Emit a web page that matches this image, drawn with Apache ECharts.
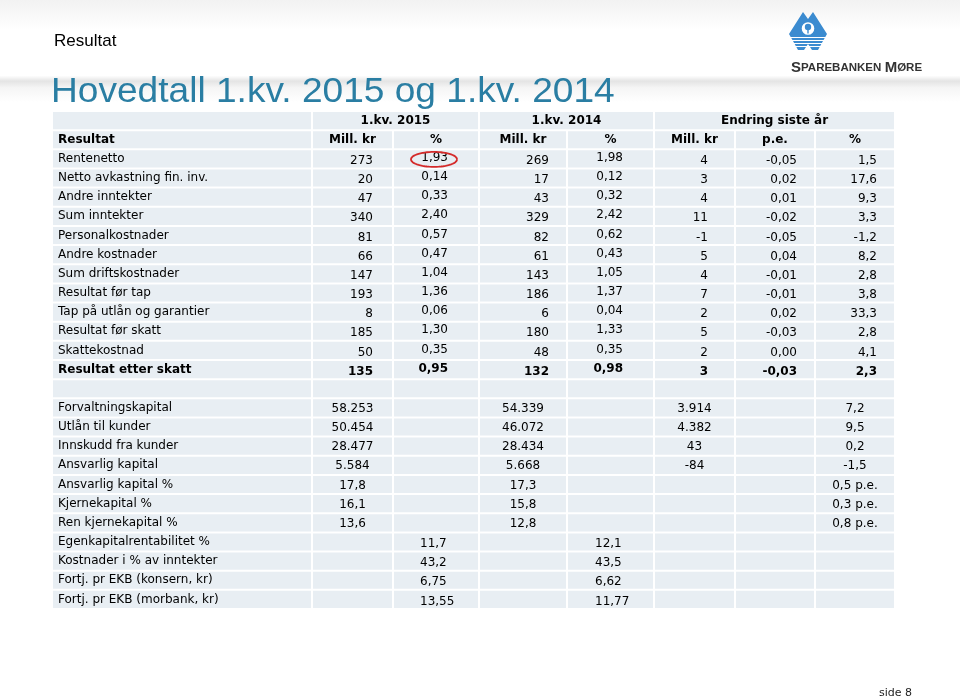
<!DOCTYPE html>
<html><head><meta charset="utf-8">
<script src="https://cdn.jsdelivr.net/npm/echarts@6/dist/echarts.min.js"></script>
<style>html,body{margin:0;padding:0;background:#fff}#c{width:960px;height:699px}</style>
</head><body><div id="c"></div>
<script>
// ---------- DATA ----------
const groupHeaders = ['1.kv. 2015', '1.kv. 2014', 'Endring siste år'];
const colHeaders = ['Resultat', 'Mill. kr', '%', 'Mill. kr', '%', 'Mill. kr', 'p.e.', '%'];

const resultLabels = ['Rentenetto', 'Netto avkastning fin. inv.', 'Andre inntekter', 'Sum inntekter',
  'Personalkostnader', 'Andre kostnader', 'Sum driftskostnader', 'Resultat før tap',
  'Tap på utlån og garantier', 'Resultat før skatt', 'Skattekostnad', 'Resultat etter skatt'];
const mill2015 = [273, 20, 47, 340, 81, 66, 147, 193, 8, 185, 50, 135];
const pct2015  = [1.93, 0.14, 0.33, 2.40, 0.57, 0.47, 1.04, 1.36, 0.06, 1.30, 0.35, 0.95];
const mill2014 = [269, 17, 43, 329, 82, 61, 143, 186, 6, 180, 48, 132];
const pct2014  = [1.98, 0.12, 0.32, 2.42, 0.62, 0.43, 1.05, 1.37, 0.04, 1.33, 0.35, 0.98];
const chgMill  = [4, 3, 4, 11, -1, 5, 4, 7, 2, 5, 2, 3];
const chgPe    = [-0.05, 0.02, 0.01, -0.02, -0.05, 0.04, -0.01, -0.01, 0.02, -0.03, 0.00, -0.03];
const chgPct   = [1.5, 17.6, 9.3, 3.3, -1.2, 8.2, 2.8, 3.8, 33.3, 2.8, 4.1, 2.3];

const balanceLabels = ['Forvaltningskapital', 'Utlån til kunder', 'Innskudd fra kunder', 'Ansvarlig kapital'];
const bal2015   = [58253, 50454, 28477, 5584];
const bal2014   = [54339, 46072, 28434, 5668];
const balChg    = [3914, 4382, 43, -84];
const balChgPct = [7.2, 9.5, 0.2, -1.5];

const capitalLabels = ['Ansvarlig kapital %', 'Kjernekapital %', 'Ren kjernekapital %'];
const cap2015 = [17.8, 16.1, 13.6];
const cap2014 = [17.3, 15.8, 12.8];
const capChg  = [0.5, 0.3, 0.8];

const keyLabels = ['Egenkapitalrentabilitet %', 'Kostnader i % av inntekter',
  'Fortj. pr EKB (konsern, kr)', 'Fortj. pr EKB (morbank, kr)'];
const key2015 = [11.7, 43.2, 6.75, 13.55];
const key2014 = [12.1, 43.5, 6.62, 11.77];
const keyDecimals = [1, 1, 2, 2];

// ---------- LAYOUT ----------
const COL = [0, 260, 341, 427, 515, 602, 683, 763, 843]; // column edges (x-axis units)
const NROWS = 26;
const FONT = '"DejaVu Sans", Verdana, sans-serif';
const CELL_BG = '#e8eef3';

function dec(v, d) { return v.toFixed(d).replace('.', ','); }
function thou(v) {
  const s = Math.abs(v).toString().replace(/\B(?=(\d{3})+(?!\d))/g, '.');
  return (v < 0 ? '-' : '') + s;
}
const mid = c => (COL[c] + COL[c + 1]) / 2;

// cells
const cells = [];
cells.push([COL[0], COL[1], 0], [COL[1], COL[3], 0], [COL[3], COL[5], 0], [COL[5], COL[8], 0]);
for (let r = 1; r < NROWS; r++) for (let c = 0; c < 8; c++) cells.push([COL[c], COL[c + 1], r]);

// texts
const texts = [];
const T = (x, row, t, al, b, dy) => texts.push({ x, row, t, al: al || 'left', b: !!b, dy: dy || 0 });
T((COL[1] + COL[3]) / 2, 0, groupHeaders[0], 'center', 1);
T((COL[3] + COL[5]) / 2, 0, groupHeaders[1], 'center', 1);
T((COL[5] + COL[8]) / 2, 0, groupHeaders[2], 'center', 1);
T(6, 1, colHeaders[0], 'left', 1);
for (let c = 1; c < 8; c++) T(mid(c), 1, colHeaders[c], 'center', 1);

resultLabels.forEach((lab, i) => {
  const r = 2 + i, b = i === resultLabels.length - 1;
  T(6, r, lab, 'left', b, 0);
  T(COL[2] - 20, r, String(mill2015[i]), 'right', b, 2);
  T(COL[3] - 31, r, dec(pct2015[i], 2), 'right', b, -1);
  T(COL[4] - 18, r, String(mill2014[i]), 'right', b, 2);
  T(COL[5] - 31, r, dec(pct2014[i], 2), 'right', b, -1);
  T(COL[6] - 27, r, String(chgMill[i]), 'right', b, 2);
  T(COL[7] - 18, r, dec(chgPe[i], 2), 'right', b, 2);
  T(COL[8] - 18, r, dec(chgPct[i], 1), 'right', b, 2);
});
balanceLabels.forEach((lab, i) => {
  const r = 15 + i;
  T(6, r, lab);
  T(mid(1), r, thou(bal2015[i]), 'center', 0, 1);
  T(mid(3), r, thou(bal2014[i]), 'center', 0, 1);
  T(mid(5), r, thou(balChg[i]), 'center', 0, 1);
  T(mid(7), r, dec(balChgPct[i], 1), 'center', 0, 1);
});
capitalLabels.forEach((lab, i) => {
  const r = 19 + i;
  T(6, r, lab);
  T(mid(1), r, dec(cap2015[i], 1), 'center', 0, 1);
  T(mid(3), r, dec(cap2014[i], 1), 'center', 0, 1);
  T(mid(7), r, dec(capChg[i], 1) + ' p.e.', 'center', 0, 1);
});
keyLabels.forEach((lab, i) => {
  const r = 22 + i;
  T(6, r, lab);
  T(COL[2] + 27, r, dec(key2015[i], keyDecimals[i]), 'left', 0, 2);
  T(COL[4] + 28, r, dec(key2014[i], keyDecimals[i]), 'left', 0, 2);
});

// ---------- CHART ----------
const chart = echarts.init(document.getElementById('c'), null, { renderer: 'canvas', width: 960, height: 699 });
const blue = '#3b8bd0';
const stripes = [37.5, 40.5, 43.5, 46.5].map(y => ({
  type: 'line', shape: { x1: 788, y1: y, x2: 828, y2: y }, style: { stroke: '#ffffff', lineWidth: 1.1 }
}));

const option = {
  animation: false,
  backgroundColor: '#ffffff',
  grid: { left: 52, top: 111, width: 843, height: 498, containLabel: false },
  xAxis: { type: 'value', min: 0, max: COL[8], show: false },
  yAxis: { type: 'category', data: Array.from({ length: NROWS }, (_, i) => 'r' + i), inverse: true, show: false },
  graphic: [
    { type: 'rect', z: -10, shape: { x: 0, y: 0, width: 960, height: 30 },
      style: { fill: new echarts.graphic.LinearGradient(0, 0, 0, 1, [{ offset: 0, color: '#f2f2f2' }, { offset: 1, color: '#ffffff' }]) } },
    { type: 'rect', z: -10, shape: { x: 0, y: 76, width: 960, height: 26 },
      style: { fill: new echarts.graphic.LinearGradient(0, 0, 0, 1, [
        { offset: 0, color: '#fdfdfd' }, { offset: 0.2, color: '#e4e4e4' },
        { offset: 0.45, color: '#f5f5f5' }, { offset: 1, color: '#ffffff' }]) } },
    { type: 'text', x: 54, y: 41, style: { text: 'Resultat', fill: '#000', font: '17px "Liberation Sans", Arial, sans-serif',
      textAlign: 'left', align: 'left', textVerticalAlign: 'middle', verticalAlign: 'middle' } },
    { type: 'text', x: 51, y: 92.5, scaleX: 1.06, style: { text: 'Hovedtall 1.kv. 2015 og 1.kv. 2014', fill: '#2a7ea3',
      font: '35px "Liberation Sans", Arial, sans-serif',
      textAlign: 'left', align: 'left', textVerticalAlign: 'middle', verticalAlign: 'middle' } },
    // logo
    { type: 'polygon', shape: { points: [[789, 34], [796, 23], [803, 12], [808, 19], [813, 12], [820, 23], [827, 34],
        [823, 41], [818, 50], [812, 50], [808, 44], [804, 50], [798, 50], [793, 41]] },
      style: { fill: blue } },
    ...stripes,
    { type: 'circle', shape: { cx: 808, cy: 28.5, r: 7 }, style: { fill: '#ffffff', stroke: blue, lineWidth: 1.4 } },
    { type: 'circle', shape: { cx: 808, cy: 27, r: 3.2 }, style: { fill: blue } },
    { type: 'rect', shape: { x: 807.3, y: 28, width: 1.4, height: 5.5 }, style: { fill: blue } },
    { type: 'text', x: 791, y: 67.5, style: {
      text: '{b|S}{s|PAREBANKEN} {b|M}{s|ØRE}', fill: '#333',
      rich: { b: { fontSize: 15, fontWeight: 'bold', fontFamily: '"Liberation Sans", Arial, sans-serif', fill: '#333', color: '#333' },
              s: { fontSize: 11.5, fontWeight: 'bold', fontFamily: '"Liberation Sans", Arial, sans-serif', fill: '#333', color: '#333' } },
      textAlign: 'left', align: 'left', textVerticalAlign: 'middle', verticalAlign: 'middle' } },
    { type: 'text', x: 912, y: 693.5, style: { text: 'side 8', fill: '#222', font: '11px "DejaVu Sans", sans-serif',
      textAlign: 'right', align: 'right', textVerticalAlign: 'middle', verticalAlign: 'middle' } }
  ],
  series: [
    {
      type: 'custom', name: 'cells', silent: true,
      data: cells,
      renderItem: (params, api) => {
        const p0 = api.coord([api.value(0), api.value(2)]);
        const p1 = api.coord([api.value(1), api.value(2)]);
        const h = api.size([0, 1])[1];
        return { type: 'rect', shape: { x: p0[0] + 1, y: p0[1] - h / 2 + 1, width: p1[0] - p0[0] - 2, height: h - 2 },
          style: { fill: CELL_BG } };
      }
    },
    {
      type: 'custom', name: 'texts', silent: true, z: 3,
      data: texts.map(t => [t.x, t.row]),
      renderItem: (params, api) => {
        const t = texts[params.dataIndex];
        const p = api.coord([api.value(0), api.value(1)]);
        return { type: 'text', x: p[0], y: p[1] + t.dy,
          style: { text: t.t, fill: '#000', font: (t.b ? 'bold ' : '') + '12px ' + FONT,
            textAlign: t.al, align: t.al, textVerticalAlign: 'middle', verticalAlign: 'middle' } };
      }
    },
    {
      type: 'custom', name: 'highlight', silent: true, z: 4,
      data: [[COL[3] - 31, 2]],
      renderItem: (params, api) => {
        const p = api.coord([api.value(0), api.value(1)]);
        const cx = p[0] - 14, cy = p[1] + 0.5, rx = 23, ry = 7.5;
        const pts = [];
        for (let k = 0; k <= 60; k++) {
          const a = k / 60 * Math.PI * 2;
          pts.push([cx + rx * Math.cos(a), cy + ry * Math.sin(a)]);
        }
        return { type: 'polyline', shape: { points: pts }, style: { stroke: '#d42a2a', lineWidth: 1.8, fill: null } };
      }
    }
  ]
};
chart.setOption(option);
</script></body></html>
